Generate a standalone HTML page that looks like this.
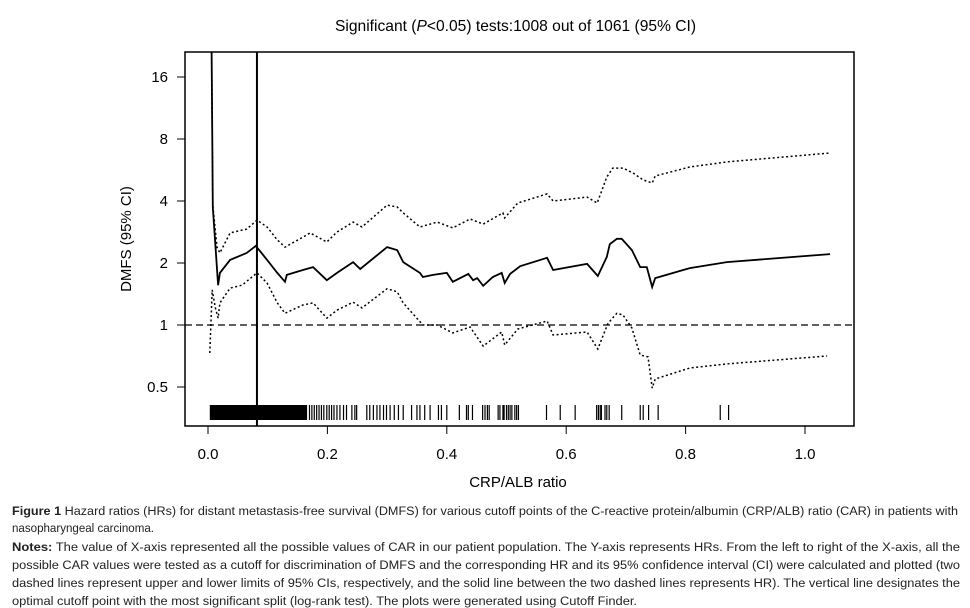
<!DOCTYPE html>
<html><head><meta charset="utf-8"><style>
body{margin:0;background:#fff}
svg{display:block;font-family:"Liberation Sans",Arial,sans-serif}
</style></head><body>
<svg id="chart" width="970" height="608" viewBox="0 0 970 608" xmlns="http://www.w3.org/2000/svg">
<text x="335" y="31" font-size="15.6">Significant (<tspan font-style="italic">P</tspan>&lt;0.05) tests:1008 out of 1061 (95% CI)</text>
<rect x="185" y="52" width="669" height="374" fill="none" stroke="#000" stroke-width="1.5"/>
<g id="plot" clip-path="url(#clip)"></g>
<defs><clipPath id="clip"><rect x="185" y="52" width="669" height="374"/></clipPath></defs>
<g id="axes"></g>
<text transform="translate(131,239) rotate(-90)" text-anchor="middle" font-size="15">DMFS (95% CI)</text>
<text x="518" y="487" text-anchor="middle" font-size="15">CRP/ALB ratio</text>
<g font-size="12.2" fill="#222">
<text x="12" y="515" textLength="946" lengthAdjust="spacingAndGlyphs"><tspan font-weight="bold">Figure 1</tspan> Hazard ratios (HRs) for distant metastasis-free survival (DMFS) for various cutoff points of the C-reactive protein/albumin (CRP/ALB) ratio (CAR) in patients with</text>
<text x="12" y="532" textLength="142" lengthAdjust="spacingAndGlyphs">nasopharyngeal carcinoma.</text>
<text x="12" y="551" textLength="948" lengthAdjust="spacingAndGlyphs"><tspan font-weight="bold">Notes:</tspan> The value of X-axis represented all the possible values of CAR in our patient population. The Y-axis represents HRs. From the left to right of the X-axis, all the</text>
<text x="12" y="569" textLength="948" lengthAdjust="spacingAndGlyphs">possible CAR values were tested as a cutoff for discrimination of DMFS and the corresponding HR and its 95% confidence interval (CI) were calculated and plotted (two</text>
<text x="12" y="587" textLength="948" lengthAdjust="spacingAndGlyphs">dashed lines represent upper and lower limits of 95% CIs, respectively, and the solid line between the two dashed lines represents HR). The vertical line designates the</text>
<text x="12" y="605" textLength="625" lengthAdjust="spacingAndGlyphs">optimal cutoff point with the most significant split (log-rank test). The plots were generated using Cutoff Finder.</text>
</g>
</svg>
<script>
const xTicks=[0,0.2,0.4,0.6,0.8,1.0];
const xTickLabels=["0.0","0.2","0.4","0.6","0.8","1.0"];
const yTicks=[0.5,1,2,4,8,16];
const yTickLabels=["0.5","1","2","4","8","16"];
const hrX=[0.006,0.008,0.017,0.020,0.037,0.057,0.065,0.080,0.099,0.116,0.129,0.132,0.159,0.176,0.199,0.216,0.243,0.255,0.300,0.317,0.327,0.355,0.360,0.377,0.400,0.410,0.436,0.444,0.451,0.461,0.477,0.492,0.497,0.506,0.523,0.568,0.578,0.635,0.653,0.668,0.673,0.685,0.693,0.710,0.724,0.735,0.744,0.749,0.796,0.807,0.869,1.042];
const hrY=[22,3.74,1.56,1.79,2.07,2.19,2.24,2.42,2.07,1.79,1.62,1.75,1.85,1.91,1.65,1.79,2.02,1.87,2.39,2.31,2.02,1.79,1.71,1.75,1.79,1.62,1.77,1.65,1.69,1.55,1.71,1.79,1.60,1.77,1.93,2.12,1.85,1.98,1.73,2.14,2.47,2.62,2.62,2.31,1.91,1.91,1.53,1.69,1.85,1.89,2.02,2.21];
const upX=[0.006,0.008,0.015,0.020,0.037,0.057,0.065,0.082,0.099,0.116,0.129,0.159,0.171,0.199,0.216,0.243,0.258,0.300,0.317,0.327,0.355,0.384,0.410,0.439,0.461,0.494,0.497,0.519,0.568,0.578,0.635,0.652,0.668,0.678,0.695,0.712,0.729,0.744,0.749,0.807,0.869,1.042];
const upY=[22,3.82,2.39,2.24,2.80,2.89,2.92,3.23,2.99,2.59,2.39,2.67,2.80,2.53,2.83,3.16,2.99,3.82,3.74,3.50,2.99,3.16,2.96,3.27,3.09,3.50,3.31,3.91,4.33,4.00,4.18,3.91,5.23,5.78,5.78,5.47,5.06,4.89,5.29,5.85,6.19,6.84];
const loX=[0.003,0.007,0.012,0.017,0.020,0.037,0.057,0.082,0.099,0.116,0.129,0.159,0.176,0.199,0.216,0.243,0.258,0.300,0.317,0.327,0.360,0.384,0.410,0.439,0.461,0.492,0.497,0.519,0.568,0.578,0.635,0.653,0.670,0.685,0.695,0.710,0.724,0.737,0.744,0.749,0.807,0.869,1.037];
const loY=[0.731,1.48,1.22,1.08,1.28,1.51,1.56,1.79,1.60,1.28,1.14,1.25,1.28,1.08,1.18,1.29,1.21,1.50,1.45,1.28,1.0,1.0,0.915,0.978,0.79,0.925,0.80,0.956,1.046,0.894,0.925,0.765,1.02,1.14,1.12,0.967,0.715,0.70,0.494,0.547,0.618,0.647,0.707];
const rugBlock=[0.003,0.165];
const rugTicks=[0.165,0.170,0.174,0.178,0.182,0.186,0.190,0.194,0.199,0.203,0.207,0.211,0.216,0.221,0.227,0.232,0.241,0.246,0.249,0.266,0.271,0.277,0.283,0.288,0.294,0.299,0.305,0.312,0.319,0.327,0.341,0.350,0.355,0.363,0.372,0.386,0.391,0.400,0.421,0.433,0.436,0.443,0.460,0.464,0.468,0.471,0.486,0.489,0.494,0.496,0.500,0.503,0.506,0.509,0.514,0.517,0.520,0.567,0.590,0.615,0.651,0.654,0.657,0.659,0.665,0.668,0.672,0.693,0.724,0.729,0.738,0.754,0.858,0.872];
const cutoff=0.082;
const refHR=1;

const NS="http://www.w3.org/2000/svg";
const sx=v=>208+597*v;
const sy=v=>325-62*Math.log2(v);
function mk(tag,attrs,parent){const e=document.createElementNS(NS,tag);for(const k in attrs)e.setAttribute(k,attrs[k]);parent.appendChild(e);return e;}
const plot=document.getElementById('plot'), axes=document.getElementById('axes');
function line(xs,ys,name,dash,w){
  const d=xs.map((x,i)=>(i?'L':'M')+sx(x).toFixed(1)+','+sy(ys[i]).toFixed(1)).join(' ');
  const p=mk('path',{d:d,fill:'none',stroke:'#000','stroke-width':w},plot);
  if(dash)p.setAttribute('stroke-dasharray',dash);
  
  
}
line(upX,upY,'upper-ci-line','2 2.5',1.5);
line(loX,loY,'lower-ci-line','2 2.5',1.5);
line(hrX,hrY,'hazard-ratio-line',null,1.8);
const ref=mk('line',{x1:185,x2:854,y1:sy(refHR),y2:sy(refHR),stroke:'#000','stroke-width':1.3,'stroke-dasharray':'7 4'},plot);


const cut=mk('line',{x1:sx(cutoff),x2:sx(cutoff),y1:52,y2:426,stroke:'#000','stroke-width':2},plot);


const blk=mk('rect',{x:sx(rugBlock[0]),y:405,width:sx(rugBlock[1])-sx(rugBlock[0]),height:15,fill:'#000'},plot);


rugTicks.forEach(v=>{
  const t=mk('line',{x1:sx(v),x2:sx(v),y1:405,y2:420,stroke:'#000','stroke-width':1.2},plot);
  
  
});
xTicks.forEach((v,i)=>{
  const t=mk('line',{x1:sx(v),x2:sx(v),y1:426,y2:434,stroke:'#000','stroke-width':1},axes);
  
  
  const l=mk('text',{x:sx(v),y:459,'text-anchor':'middle','font-size':15},axes);
  l.textContent=xTickLabels[i];
  
  
});
yTicks.forEach((v,i)=>{
  const t=mk('line',{x1:177,x2:185,y1:sy(v),y2:sy(v),stroke:'#000','stroke-width':1},axes);
  
  
  const l=mk('text',{x:168,y:sy(v)+5,'text-anchor':'end','font-size':15},axes);
  l.textContent=yTickLabels[i];
  
  
});
</script>
</body></html>
